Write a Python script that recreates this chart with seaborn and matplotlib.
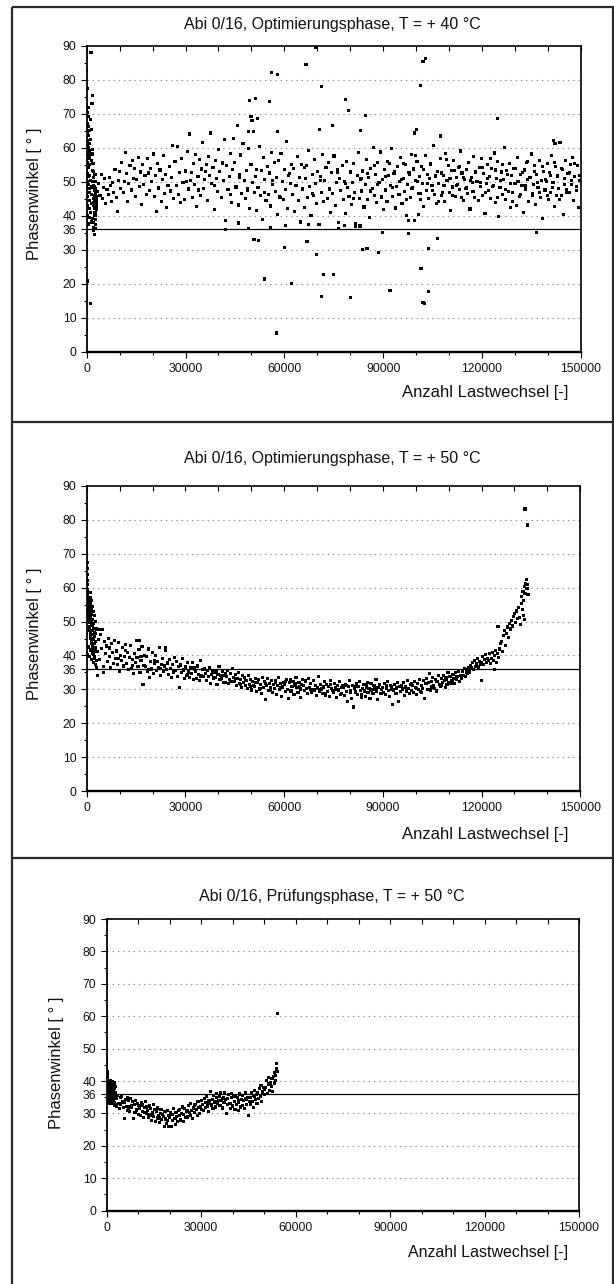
import numpy as np
import pandas as pd
import matplotlib
matplotlib.use("Agg")
import matplotlib.pyplot as plt
from matplotlib.lines import Line2D
from matplotlib.ticker import MultipleLocator, FixedLocator, StrMethodFormatter
import seaborn as sns

sns.set_theme(style="white")
plt.rcParams["font.family"] = ["Liberation Sans", "DejaVu Sans"]

# ---------------------------------------------------------------------------
# Texts
# ---------------------------------------------------------------------------
titles = [
    "Abi 0/16, Optimierungsphase, T = + 40 °C",
    "Abi 0/16, Optimierungsphase, T = + 50 °C",
    "Abi 0/16, Prüfungsphase, T = + 50 °C",
]
x_label = "Anzahl Lastwechsel [-]"
y_label = "Phasenwinkel [ ° ]"
y_ticks = [0, 10, 20, 30, 36, 40, 50, 60, 70, 80, 90]
y_minor = [5, 15, 25, 35, 45, 55, 65, 75, 85]
grid_levels = [10, 20, 30, 40, 50, 60, 70, 80]
limit_value = 36

# ---------------------------------------------------------------------------
# Optimierungsphase, T = +40 °C
# ---------------------------------------------------------------------------
start_40 = [
    (0, 82.7), (100, 77.5), (50, 72.1), (200, 70.4), (150, 67.2), (300, 64.5), (250, 62.1), (80, 60.3),
    (350, 58.0), (120, 55.6), (280, 52.4), (180, 50.1), (60, 48.2), (320, 45.7), (220, 43.1), (140, 40.2),
    (380, 37.6), (40, 32.5), (10, 15.5), (240, 20.8),
    (450, 71.8), (520, 69.2), (600, 66.4), (680, 63.7), (750, 61.2), (820, 59.1), (900, 57.3), (480, 54.2),
    (560, 51.6), (640, 49.3), (720, 47.0), (800, 44.5), (880, 42.1), (960, 39.4), (700, 65.0), (540, 60.0),
    (860, 55.0), (620, 56.8), (940, 52.0), (780, 48.0),
    (1300, 88.2), (1700, 75.4), (1600, 73.0), (1100, 68.3), (1500, 65.4), (1200, 62.6), (1400, 56.2),
    (1650, 53.4), (1050, 50.5), (1350, 46.3), (1550, 43.6), (1150, 41.0), (1450, 38.2), (1070, 14.1),
    (1750, 59.5), (1250, 58.0), (1600, 48.5), (1700, 50.0),
    (1850, 58.2), (1900, 55.3), (2000, 53.1), (2100, 51.2), (2200, 49.0), (2300, 47.6), (2400, 46.1),
    (1950, 45.2), (2050, 44.0), (2150, 43.0), (2250, 42.1), (2350, 41.0), (2450, 40.2), (1880, 39.1),
    (1980, 38.0), (2080, 36.6), (2180, 35.6), (2280, 34.4), (2380, 44.8), (2480, 48.6),
    (2520, 52.1), (2580, 50.2), (2640, 48.1), (2700, 46.5), (2760, 45.0), (2820, 44.1), (2880, 43.2),
    (2940, 42.0), (2560, 41.1), (2620, 40.0), (2680, 39.0), (2740, 37.5), (2800, 36.2), (2860, 47.2),
    (2920, 45.6), (2980, 43.8),
]

x_40 = [
    3000, 3350, 3700, 4050, 4400, 4750, 5100, 5450, 5800, 6150,
    6500, 6850, 7200, 7550, 7900, 8250, 8600, 8950, 9300, 9650,
    10000, 10350, 10700, 11050, 11400, 11750, 12100, 12450, 12800, 13150,
    13500, 13850, 14200, 14550, 14900, 15250, 15600, 15950, 16300, 16650,
    17000, 17350, 17700, 18050, 18400, 18750, 19100, 19450, 19800, 20150,
    20500, 20850, 21200, 21550, 21900, 22250, 22600, 22950, 23300, 23650,
    24000, 24350, 24700, 25050, 25400, 25750, 26100, 26450, 26800, 27150,
    27500, 27850, 28200, 28550, 28900, 29250, 29600, 29950, 30300, 30650,
    31000, 31350, 31700, 32050, 32400, 32750, 33100, 33450, 33800, 34150,
    34500, 34850, 35200, 35550, 35900, 36250, 36600, 36950, 37300, 37650,
    38000, 38350, 38700, 39050, 39400, 39750, 40100, 40450, 40800, 41150,
    41500, 41850, 42200, 42550, 42900, 43250, 43600, 43950, 44300, 44650,
    45000, 45350, 45700, 46050, 46400, 46750, 47100, 47450, 47800, 48150,
    48500, 48850, 49200, 49550, 49900, 50250, 50600, 50950, 51300, 51650,
    52000, 52350, 52700, 53050, 53400, 53750, 54100, 54450, 54800, 55150,
    55500, 55850, 56200, 56550, 56900, 57250, 57600, 57950, 58300, 58650,
    59000, 59350, 59700, 60050, 60400, 60750, 61100, 61450, 61800, 62150,
    62500, 62850, 63200, 63550, 63900, 64250, 64600, 64950, 65300, 65650,
    66000, 66350, 66700, 67050, 67400, 67750, 68100, 68450, 68800, 69150,
    69500, 69850, 70200, 70550, 70900, 71250, 71600, 71950, 72300, 72650,
    73000, 73350, 73700, 74050, 74400, 74750, 75100, 75450, 75800, 76150,
    76500, 76850, 77200, 77550, 77900, 78250, 78600, 78950, 79300, 79650,
    80000, 80350, 80700, 81050, 81400, 81750, 82100, 82450, 82800, 83150,
    83500, 83850, 84200, 84550, 84900, 85250, 85600, 85950, 86300, 86650,
    87000, 87350, 87700, 88050, 88400, 88750, 89100, 89450, 89800, 90150,
    90500, 90850, 91200, 91550, 91900, 92250, 92600, 92950, 93300, 93650,
    94000, 94350, 94700, 95050, 95400, 95750, 96100, 96450, 96800, 97150,
    97500, 97850, 98200, 98550, 98900, 99250, 99600, 99950, 100300, 100650,
    101000, 101350, 101700, 102050, 102400, 102750, 103100, 103450, 103800, 104150,
    104500, 104850, 105200, 105550, 105900, 106250, 106600, 106950, 107300, 107650,
    108000, 108350, 108700, 109050, 109400, 109750, 110100, 110450, 110800, 111150,
    111500, 111850, 112200, 112550, 112900, 113250, 113600, 113950, 114300, 114650,
    115000, 115350, 115700, 116050, 116400, 116750, 117100, 117450, 117800, 118150,
    118500, 118850, 119200, 119550, 119900, 120250, 120600, 120950, 121300, 121650,
    122000, 122350, 122700, 123050, 123400, 123750, 124100, 124450, 124800, 125150,
    125500, 125850, 126200, 126550, 126900, 127250, 127600, 127950, 128300, 128650,
    129000, 129350, 129700, 130050, 130400, 130750, 131100, 131450, 131800, 132150,
    132500, 132850, 133200, 133550, 133900, 134250, 134600, 134950, 135300, 135650,
    136000, 136350, 136700, 137050, 137400, 137750, 138100, 138450, 138800, 139150,
    139500, 139850, 140200, 140550, 140900, 141250, 141600, 141950, 142300, 142650,
    143000, 143350, 143700, 144050, 144400, 144750, 145100, 145450, 145800, 146150,
    146500, 146850, 147200, 147550, 147900, 148250, 148600, 148950, 149300, 149650,
]
y_40 = [
    44.8, 47.2, 49.6, 46.1, 52.3, 45.0, 48.4, 50.9, 43.6, 47.7,
    46.3, 51.2, 48.9, 44.2, 49.8, 47.0, 53.6, 45.5, 41.2, 50.4,
    53.1, 48.0, 55.7, 46.9, 50.2, 58.6, 52.4, 44.3, 49.5, 54.8,
    47.6, 56.3, 51.0, 53.9, 45.8, 50.7, 57.2, 48.6, 52.9, 43.4,
    55.1, 49.3, 51.8, 46.2, 56.9, 52.6, 47.4, 54.0, 50.1, 58.2,
    45.6, 51.9, 41.3, 55.3, 48.2, 53.5, 44.1, 50.6, 57.8, 46.7,
    52.2, 42.5, 49.0, 54.6, 47.3, 51.4, 60.8, 45.2, 55.9, 48.8,
    60.3, 46.4, 52.8, 43.9, 57.0, 49.7, 44.7, 53.2, 50.0, 58.9,
    47.9, 64.1, 52.7, 45.4, 55.4, 49.2, 58.0, 42.8, 51.6, 56.6,
    46.0, 53.8, 61.7, 48.1, 50.8, 55.0, 44.6, 57.5, 52.0, 64.4,
    49.4, 54.3, 41.8, 56.2, 51.1, 47.1, 59.4, 53.0, 45.3, 55.5,
    50.3, 62.5, 38.5, 54.9, 47.8, 51.5, 58.3, 44.0, 53.7, 62.8,
    55.8, 48.5, 66.6, 43.2, 52.1, 57.9, 46.6, 61.2, 50.5, 45.1,
    53.3, 47.5, 59.9, 42.2, 55.2, 49.9, 64.7, 46.8, 51.7, 41.6,
    48.3, 60.4, 45.9, 53.4, 38.9, 57.1, 50.7, 44.4, 54.5, 46.2,
    52.6, 42.9, 58.7, 49.1, 55.6, 47.2, 51.3, 40.4, 56.4, 45.7,
    58.4, 50.2, 44.9, 53.6, 47.7, 61.9, 42.1, 52.5, 49.6, 55.0,
    46.4, 53.9, 41.4, 48.8, 57.4, 44.5, 51.2, 38.2, 55.1, 47.9,
    42.4, 50.9, 54.8, 45.3, 59.2, 48.7, 40.1, 52.3, 46.0, 56.7,
    49.5, 43.6, 53.0, 37.4, 51.6, 47.0, 58.1, 44.2, 50.4, 54.2,
    45.1, 55.7, 48.0, 41.0, 52.8, 46.5, 57.6, 43.0, 49.9, 53.5,
    38.1, 51.0, 47.4, 54.7, 44.7, 50.1, 40.8, 56.0, 48.4, 45.6,
    52.9, 43.3, 49.8, 55.4, 46.8, 37.0, 51.8, 58.6, 45.0, 50.6,
    47.3, 53.2, 42.6, 49.2, 56.5, 44.9, 51.4, 39.6, 54.0, 48.1,
    60.2, 46.1, 52.1, 43.8, 55.8, 49.7, 58.8, 45.4, 50.8, 41.9,
    53.7, 47.6, 44.1, 51.9, 55.5, 49.0, 59.7, 45.8, 52.4, 42.3,
    48.6, 54.4, 46.3, 50.0, 57.3, 43.7, 51.1, 47.1, 55.0, 40.2,
    49.3, 52.7, 45.5, 58.0, 48.2, 53.8, 38.6, 50.5, 56.1, 46.7,
    51.5, 44.8, 54.6, 49.4, 42.7, 57.7, 47.5, 52.2, 45.2, 50.9,
    55.3, 48.9, 60.7, 46.4, 51.7, 43.5, 53.1, 49.6, 57.0, 45.9,
    47.0, 52.0, 44.3, 58.4, 50.3, 54.9, 46.9, 41.5, 53.4, 48.5,
    56.3, 45.6, 51.3, 49.1, 54.1, 47.8, 59.1, 52.6, 44.6, 50.7,
    48.0, 53.6, 46.6, 55.7, 42.0, 51.2, 49.9, 57.5, 45.3, 52.8,
    50.2, 44.5, 54.3, 48.7, 56.8, 46.1, 52.5, 40.7, 49.4, 55.2,
    47.4, 51.6, 45.0, 53.9, 49.0, 58.5, 44.0, 51.0, 55.9, 39.8,
    48.4, 52.9, 46.3, 50.6, 60.0, 44.7, 53.3, 47.2, 55.4, 42.5,
    51.8, 46.9, 54.0, 49.5, 43.1, 57.2, 50.1, 45.7, 52.3, 48.8,
    40.9, 53.5, 47.9, 55.6, 50.8, 44.2, 51.4, 58.2, 46.5, 49.2,
    54.7, 43.4, 52.1, 48.3, 56.2, 45.4, 50.4, 39.3, 53.0, 47.6,
    50.0, 55.3, 44.9, 52.7, 47.0, 57.8, 49.8, 42.8, 54.4, 46.0,
    51.9, 48.1, 61.5, 45.9, 53.6, 40.5, 50.9, 56.4, 47.7, 52.5,
    46.8, 55.0, 49.3, 57.3, 44.4, 51.5, 48.6, 54.8, 42.4, 50.3,
]

more_40 = [
    (31500, 50.4), (33900, 47.6), (36200, 53.1), (38900, 49.0), (41300, 55.8), (43700, 46.3),
    (46500, 51.3), (48900, 48.1), (51500, 53.6), (53900, 47.0), (56300, 50.5), (58700, 45.4),
    (61300, 52.0), (63700, 48.9), (66200, 54.3), (68600, 46.7), (71100, 50.3), (73600, 47.8),
    (76100, 52.7), (78500, 49.4), (80900, 45.2), (83300, 51.1),
    (85200, 52.4), (86100, 47.3), (87500, 54.9), (88300, 49.2), (89600, 45.8), (90700, 51.6),
    (91400, 56.1), (92800, 48.4), (93500, 53.0), (94900, 46.2), (95600, 50.8), (96300, 55.4),
    (97200, 44.9), (98100, 52.1), (98700, 48.0), (99800, 57.8), (100500, 50.2), (101200, 46.6),
    (102300, 53.7), (103600, 49.5), (104300, 55.0), (105100, 47.4), (105800, 51.9), (106700, 44.3),
    (107800, 52.6), (108500, 48.8), (109200, 56.5), (110300, 50.9), (111000, 46.0), (111700, 53.3),
    (112400, 49.0), (113100, 54.6), (113800, 45.5), (114500, 51.4), (115300, 48.2), (116000, 55.7),
    (116600, 50.4), (117300, 47.1), (118000, 52.9), (118900, 44.6), (119600, 49.8), (120300, 54.2),
    (121100, 46.9), (121800, 51.0), (122600, 57.0), (123300, 48.6), (124000, 53.5), (124800, 45.3),
    (125600, 50.5), (126300, 55.2), (127100, 47.7), (127800, 52.3), (128600, 49.4), (129400, 44.1),
    (130100, 54.0), (130900, 50.0), (131600, 46.4), (132300, 52.8), (133100, 48.9), (133800, 56.0),
    (134600, 51.2), (135300, 45.9), (136100, 53.1), (136900, 49.7), (137600, 47.0), (138400, 54.4),
    (139200, 50.6), (139900, 46.1), (140700, 52.0), (141400, 48.3), (142100, 55.6), (142900, 51.5),
    (143600, 44.8), (144300, 53.9), (145000, 49.1), (145800, 46.8), (146600, 52.7), (147300, 50.3),
    (148000, 55.3), (148800, 47.5), (149500, 51.8),
]

outliers_40 = [
    (49400, 74.0), (51200, 74.6), (55400, 73.6), (56000, 82.1), (57900, 81.7), (66600, 84.6),
    (69400, 89.6), (71300, 78.0), (78700, 74.3), (79500, 71.1), (84600, 69.6), (102100, 85.4),
    (103000, 86.2), (101300, 78.4), (49900, 69.3), (50200, 68.0), (51800, 68.6), (74500, 66.7),
    (83100, 65.1), (70700, 65.5), (100200, 65.5), (99600, 64.4), (124700, 68.7), (107500, 63.5),
    (57800, 64.7), (49200, 64.7), (141800, 62.3), (142200, 61.4),
    (50800, 33.0), (52200, 32.8), (60000, 30.8), (66900, 32.5), (69700, 28.5), (71900, 22.6),
    (75000, 22.6), (71400, 16.2), (80000, 16.0), (54100, 21.4), (62200, 20.0), (57600, 5.5),
    (83700, 30.0), (85100, 30.3), (88700, 29.3), (92100, 18.0), (89700, 35.0), (97800, 34.7),
    (101500, 24.6), (102100, 14.6), (102700, 14.1), (103700, 17.6), (103900, 30.5), (106500, 33.4),
    (136600, 35.2),
    (42200, 35.9), (46000, 37.9), (49200, 36.3), (55900, 36.5), (60400, 37.2), (67400, 37.4),
    (76500, 36.2), (78300, 37.2), (81500, 37.7), (83000, 37.0), (97800, 38.5), (100800, 40.4),
]

# ---------------------------------------------------------------------------
# Optimierungsphase, T = +50 °C
# ---------------------------------------------------------------------------
start_50 = [
    (0, 83.0), (30, 74.0), (60, 70.2), (90, 67.3), (120, 65.6), (150, 63.8), (200, 62.0), (250, 60.9),
    (300, 59.4), (350, 58.1), (400, 57.2), (450, 56.4), (500, 55.5), (550, 54.8), (600, 53.9),
    (650, 53.2), (700, 52.6), (750, 51.8), (800, 51.0), (850, 50.3),
    (100, 58.5), (220, 56.0), (340, 54.2), (460, 52.4), (580, 50.8), (700, 49.6), (820, 48.4),
    (940, 47.5), (1060, 46.6), (1180, 45.8), (1300, 45.0), (1420, 44.3), (1540, 43.6), (1660, 43.0),
    (1780, 42.3), (1900, 41.7), (2020, 41.0), (2140, 40.4), (2260, 39.8), (2380, 39.2),
    (900, 54.6), (1000, 52.9), (1100, 55.3), (1200, 51.5), (1300, 53.7), (1400, 50.1), (1500, 52.2),
    (1600, 48.9), (1700, 50.6), (1800, 47.4), (1900, 49.3), (2000, 46.1), (2100, 48.0), (2200, 44.7),
    (2300, 46.9), (2400, 43.5), (2500, 45.6), (2600, 42.4), (2700, 44.2), (2800, 41.3),
    (200, 40.2), (500, 42.5), (800, 39.8), (1100, 41.6), (1400, 38.9), (1700, 40.7), (2000, 37.9),
    (2300, 39.1), (2600, 37.4), (2900, 38.5), (1000, 57.2), (1250, 58.6), (1500, 56.1), (1750, 54.4),
    (2050, 53.0), (2350, 51.7), (2650, 49.9), (2950, 47.8), (2750, 46.5), (2850, 36.3),
]

x_50 = [
    3000, 3300, 3600, 3900, 4200, 4500, 4800, 5100, 5400, 5700,
    6000, 6300, 6600, 6900, 7200, 7500, 7800, 8100, 8400, 8700,
    9000, 9300, 9600, 9900, 10200, 10500, 10800, 11100, 11400, 11700,
    12000, 12300, 12600, 12900, 13200, 13500, 13800, 14100, 14400, 14700,
    15000, 15300, 15600, 15900, 16200, 16500, 16800, 17100, 17400, 17700,
    18000, 18300, 18600, 18900, 19200, 19500, 19800, 20100, 20400, 20700,
    21000, 21300, 21600, 21900, 22200, 22500, 22800, 23100, 23400, 23700,
    24000, 24300, 24600, 24900, 25200, 25500, 25800, 26100, 26400, 26700,
    27000, 27300, 27600, 27900, 28200, 28500, 28800, 29100, 29400, 29700,
    30000, 30300, 30600, 30900, 31200, 31500, 31800, 32100, 32400, 32700,
    33000, 33300, 33600, 33900, 34200, 34500, 34800, 35100, 35400, 35700,
    36000, 36300, 36600, 36900, 37200, 37500, 37800, 38100, 38400, 38700,
    39000, 39300, 39600, 39900, 40200, 40500, 40800, 41100, 41400, 41700,
    42000, 42300, 42600, 42900, 43200, 43500, 43800, 44100, 44400, 44700,
    45000, 45300, 45600, 45900, 46200, 46500, 46800, 47100, 47400, 47700,
    48000, 48300, 48600, 48900, 49200, 49500, 49800, 50100, 50400, 50700,
    51000, 51300, 51600, 51900, 52200, 52500, 52800, 53100, 53400, 53700,
    54000, 54300, 54600, 54900, 55200, 55500, 55800, 56100, 56400, 56700,
    57000, 57300, 57600, 57900, 58200, 58500, 58800, 59100, 59400, 59700,
    60000, 60300, 60600, 60900, 61200, 61500, 61800, 62100, 62400, 62700,
    63000, 63300, 63600, 63900, 64200, 64500, 64800, 65100, 65400, 65700,
    66000, 66300, 66600, 66900, 67200, 67500, 67800, 68100, 68400, 68700,
    69000, 69300, 69600, 69900, 70200, 70500, 70800, 71100, 71400, 71700,
    72000, 72300, 72600, 72900, 73200, 73500, 73800, 74100, 74400, 74700,
    75000, 75300, 75600, 75900, 76200, 76500, 76800, 77100, 77400, 77700,
    78000, 78300, 78600, 78900, 79200, 79500, 79800, 80100, 80400, 80700,
    81000, 81300, 81600, 81900, 82200, 82500, 82800, 83100, 83400, 83700,
    84000, 84300, 84600, 84900, 85200, 85500, 85800, 86100, 86400, 86700,
    87000, 87300, 87600, 87900, 88200, 88500, 88800, 89100, 89400, 89700,
    90000, 90300, 90600, 90900, 91200, 91500, 91800, 92100, 92400, 92700,
    93000, 93300, 93600, 93900, 94200, 94500, 94800, 95100, 95400, 95700,
    96000, 96300, 96600, 96900, 97200, 97500, 97800, 98100, 98400, 98700,
    99000, 99300, 99600, 99900, 100200, 100500, 100800, 101100, 101400, 101700,
    102000, 102300, 102600, 102900, 103200, 103500, 103800, 104100, 104400, 104700,
    105000, 105300, 105600, 105900, 106200, 106500, 106800, 107100, 107400, 107700,
    108000, 108300, 108600, 108900, 109200, 109500, 109800, 110100, 110400, 110700,
    111000, 111300, 111600, 111900, 112200, 112500, 112800, 113100, 113400, 113700,
    114000, 114300, 114600, 114900, 115200, 115500, 115800, 116100, 116400, 116700,
    117000, 117300, 117600, 117900, 118200, 118500, 118800, 119100, 119400, 119700,
    120000, 120300, 120600, 120900, 121200, 121500, 121800, 122100, 122400, 122700,
    123000, 123300, 123600, 123900, 124200, 124500, 124800, 125100, 125400, 125700,
    126000, 126300, 126600, 126900, 127200, 127500, 127800, 128100, 128400, 128700,
    129000, 129300, 129600, 129900, 130200, 130500, 130800, 131100, 131400, 131700,
]
y_50 = [
    47.8, 41.2, 44.6, 38.9, 46.3, 42.0, 47.7, 36.8, 44.1, 40.5,
    42.8, 38.3, 45.1, 39.6, 36.4, 43.5, 40.9, 37.7, 44.5, 39.0,
    41.3, 37.2, 43.7, 35.4, 40.1, 38.6, 42.4, 36.9, 39.8, 43.1,
    37.5, 41.0, 35.9, 39.4, 42.9, 36.2, 38.8, 34.6, 40.6, 37.9,
    44.4, 39.3, 36.7, 41.8, 34.9, 38.4, 42.6, 31.3, 37.1, 40.0,
    36.7, 39.7, 35.2, 41.9, 33.6, 38.1, 36.0, 40.8, 34.8, 37.6,
    39.9, 35.6, 38.3, 36.5, 42.3, 34.1, 37.3, 39.2, 35.3, 36.9,
    41.5, 35.8, 37.9, 34.3, 38.7, 36.1, 33.4, 37.4, 35.0, 39.5,
    35.5, 38.2, 33.8, 36.8, 30.5, 37.0, 34.9, 39.1, 35.7, 33.2,
    36.6, 34.0, 37.8, 35.1, 33.5, 36.3, 34.6, 38.0, 33.0, 35.9,
    35.2, 33.3, 36.9, 34.4, 32.6, 38.5, 34.1, 35.8, 33.7, 36.0,
    34.8, 32.5, 35.6, 33.9, 36.4, 31.8, 34.3, 35.4, 33.1, 35.0,
    33.6, 35.1, 31.4, 34.5, 36.8, 32.9, 34.0, 33.2, 35.3, 31.9,
    34.2, 32.1, 33.9, 35.6, 31.6, 33.0, 34.7, 32.4, 36.2, 33.5,
    32.3, 34.4, 31.2, 33.1, 35.0, 31.7, 32.8, 30.6, 34.1, 32.0,
    33.4, 31.0, 32.6, 30.3, 34.0, 31.5, 33.0, 29.8, 32.4, 31.1,
    30.8, 33.2, 29.4, 31.9, 32.9, 30.1, 31.4, 28.8, 33.5, 30.6,
    32.2, 26.9, 31.0, 33.3, 29.6, 31.8, 30.4, 32.7, 29.0, 31.5,
    30.2, 32.5, 28.6, 31.2, 33.6, 29.9, 31.7, 27.8, 30.7, 32.0,
    31.4, 29.3, 32.8, 30.0, 27.2, 31.9, 33.0, 29.5, 30.9, 32.3,
    28.4, 31.6, 33.4, 30.5, 29.1, 32.1, 30.8, 27.6, 31.3, 32.9,
    31.1, 29.7, 32.4, 30.3, 28.9, 33.1, 30.6, 31.8, 29.2, 30.0,
    32.6, 29.8, 31.0, 28.3, 30.4, 33.7, 29.5, 31.5, 30.1, 28.7,
    30.7, 32.2, 28.1, 31.3, 29.4, 30.9, 27.9, 32.7, 30.2, 29.6,
    29.0, 31.7, 30.0, 27.5, 31.2, 29.8, 32.3, 28.6, 30.5, 31.0,
    30.6, 28.2, 31.5, 29.3, 26.4, 30.8, 32.6, 29.1, 27.3, 31.1,
    24.8, 30.4, 29.2, 31.8, 28.5, 30.9, 32.4, 29.7, 27.7, 30.2,
    31.3, 29.5, 28.0, 30.7, 32.1, 29.0, 30.3, 27.4, 31.6, 29.9,
    28.8, 31.0, 30.1, 32.9, 29.4, 27.1, 30.6, 31.4, 28.9, 30.0,
    30.5, 29.1, 31.7, 28.4, 30.2, 32.2, 29.6, 27.8, 31.1, 30.8,
    25.5, 29.8, 31.5, 28.7, 30.4, 32.0, 26.3, 30.9, 29.3, 31.2,
    30.1, 31.9, 28.3, 30.7, 29.5, 32.5, 30.3, 28.9, 31.4, 29.7,
    31.2, 29.0, 32.4, 30.5, 28.6, 31.7, 30.0, 32.8, 29.3, 31.0,
    30.3, 32.5, 27.4, 31.6, 33.3, 30.0, 31.9, 34.7, 29.8, 32.2,
    33.6, 31.1, 30.2, 32.9, 29.5, 32.4, 34.0, 31.5, 30.8, 33.1,
    31.9, 34.2, 32.7, 30.6, 33.4, 31.3, 35.0, 32.1, 33.8, 31.6,
    32.6, 34.5, 33.2, 31.8, 34.9, 32.9, 33.7, 35.3, 32.3, 34.1,
    33.5, 35.2, 34.0, 36.1, 33.9, 35.7, 34.6, 36.5, 35.1, 37.0,
    36.3, 37.8, 35.9, 38.4, 36.8, 37.5, 39.0, 36.6, 38.1, 37.3,
    38.0, 39.6, 37.4, 38.8, 40.2, 37.9, 39.2, 38.5, 40.7, 37.7,
    39.0, 40.8, 38.6, 39.9, 41.4, 37.8, 40.5, 39.3, 41.9, 43.5,
    44.2, 41.1, 45.8, 47.3, 43.0, 46.6, 48.4, 45.2, 49.5, 47.8,
    50.3, 48.7, 51.6, 52.4, 49.6, 53.1, 50.8, 54.2, 51.1, 49.0,
]

more_50 = [
    (7000, 42.2), (9500, 39.1), (11800, 41.5), (13800, 37.0), (16500, 39.8), (18700, 35.9),
    (20500, 38.5), (22400, 36.2), (24600, 37.6), (26500, 35.4), (28600, 37.2), (30700, 34.3),
    (32600, 36.4), (34700, 33.8), (36800, 35.5), (38700, 33.4),
    (40500, 33.0), (42100, 34.6), (43600, 32.2), (45100, 33.3), (46700, 31.4), (48200, 32.7),
    (49700, 30.9), (51200, 32.0), (52800, 30.3), (54300, 31.6), (55800, 29.7), (57400, 31.9),
    (58900, 30.5), (60400, 32.2), (61900, 29.4), (63500, 31.0), (65000, 30.1), (66500, 32.5),
    (68100, 29.9), (69600, 31.2), (71100, 30.0), (72700, 28.8), (74200, 31.4), (75700, 30.6),
    (77300, 28.9), (78800, 31.0), (80300, 29.6), (81800, 30.8), (83400, 28.4), (84900, 31.3),
    (86400, 29.8), (88000, 30.4), (89500, 28.7), (91000, 31.1), (92500, 30.0), (94100, 28.9),
    (95600, 30.9), (97100, 29.5), (98700, 31.6), (100200, 30.2), (101700, 29.1), (103300, 31.8),
    (104800, 30.7), (106300, 32.3), (107900, 31.0), (109400, 33.0), (110900, 32.2), (112400, 33.9),
    (114000, 33.1), (115500, 35.0),
]

end_50 = [
    (132000, 55.4), (132200, 57.3), (132400, 53.6), (132600, 59.0), (132800, 56.2), (133000, 60.4),
    (133200, 58.3), (133400, 61.2), (133600, 62.5), (133800, 59.8), (134000, 61.0), (133100, 50.5),
    (132700, 51.9), (134100, 57.9),
    (133200, 83.2), (134000, 78.5), (120000, 32.5), (124000, 35.9), (125000, 48.5), (3200, 34.2),
    (5000, 35.0), (16000, 44.4), (24000, 42.3), (4000, 47.6),
]

# ---------------------------------------------------------------------------
# Prüfungsphase, T = +50 °C
# ---------------------------------------------------------------------------
start_pr = [
    (0, 47.0), (30, 45.5), (60, 44.0), (90, 42.8), (120, 41.6), (150, 40.7), (200, 39.9), (250, 39.2),
    (300, 38.6), (350, 38.0), (400, 39.5), (500, 37.3), (600, 36.4), (700, 38.8), (800, 35.6),
    (900, 37.9), (1000, 39.7), (1100, 36.1), (1200, 34.8), (1300, 38.3), (1400, 35.3), (1500, 37.1),
    (1600, 39.1), (1700, 34.3), (1800, 36.8), (1900, 38.6), (2000, 35.8), (2100, 37.6), (2200, 34.0),
    (2300, 36.3), (2400, 38.1), (2500, 35.1), (2600, 33.5), (2700, 36.6), (2800, 34.6), (2900, 32.8),
    (450, 35.4), (550, 39.9), (650, 34.5), (750, 37.0), (850, 39.3), (950, 35.0), (1050, 37.5),
    (1150, 40.1), (1250, 36.6), (1350, 33.9), (1450, 39.6), (1550, 36.0), (1650, 38.0), (1750, 33.2),
    (1850, 39.8), (1950, 37.3), (2050, 33.7), (2150, 39.0), (2250, 36.9), (2350, 32.6), (2450, 37.8),
    (2550, 39.4), (2650, 35.5), (2750, 38.4), (100, 36.7), (180, 34.9), (260, 37.4), (330, 35.8),
    (420, 33.6), (520, 38.5), (620, 40.3), (720, 33.0), (820, 36.2), (920, 40.0),
]

x_pr = [
    3000, 3250, 3500, 3750, 4000, 4250, 4500, 4750, 5000, 5250,
    5500, 5750, 6000, 6250, 6500, 6750, 7000, 7250, 7500, 7750,
    8000, 8250, 8500, 8750, 9000, 9250, 9500, 9750, 10000, 10250,
    10500, 10750, 11000, 11250, 11500, 11750, 12000, 12250, 12500, 12750,
    13000, 13250, 13500, 13750, 14000, 14250, 14500, 14750, 15000, 15250,
    15500, 15750, 16000, 16250, 16500, 16750, 17000, 17250, 17500, 17750,
    18000, 18250, 18500, 18750, 19000, 19250, 19500, 19750, 20000, 20250,
    20500, 20750, 21000, 21250, 21500, 21750, 22000, 22250, 22500, 22750,
    23000, 23250, 23500, 23750, 24000, 24250, 24500, 24750, 25000, 25250,
    25500, 25750, 26000, 26250, 26500, 26750, 27000, 27250, 27500, 27750,
    28000, 28250, 28500, 28750, 29000, 29250, 29500, 29750, 30000, 30250,
    30500, 30750, 31000, 31250, 31500, 31750, 32000, 32250, 32500, 32750,
    33000, 33250, 33500, 33750, 34000, 34250, 34500, 34750, 35000, 35250,
    35500, 35750, 36000, 36250, 36500, 36750, 37000, 37250, 37500, 37750,
    38000, 38250, 38500, 38750, 39000, 39250, 39500, 39750, 40000, 40250,
    40500, 40750, 41000, 41250, 41500, 41750, 42000, 42250, 42500, 42750,
    43000, 43250, 43500, 43750, 44000, 44250, 44500, 44750, 45000, 45250,
    45500, 45750, 46000, 46250, 46500, 46750, 47000, 47250, 47500, 47750,
    48000, 48250, 48500, 48750, 49000, 49250, 49500, 49750, 50000, 50250,
    50500, 50750, 51000, 51250, 51500, 51750, 52000, 52250, 52500, 52750,
]
y_pr = [
    34.5, 32.1, 35.6, 33.0, 31.4, 34.9, 32.7, 35.2, 33.8, 31.9,
    33.4, 28.4, 34.3, 32.2, 35.0, 31.0, 33.9, 30.6, 34.7, 32.5,
    31.8, 33.6, 28.4, 32.9, 30.3, 34.1, 31.2, 33.0, 29.6, 32.4,
    31.5, 29.4, 33.4, 30.7, 32.6, 28.7, 31.9, 33.8, 30.1, 32.0,
    30.8, 28.9, 32.3, 29.8, 31.5, 27.9, 30.4, 32.8, 29.2, 31.1,
    27.4, 30.5, 28.6, 31.7, 29.3, 27.1, 30.0, 31.2, 28.2, 29.7,
    29.0, 26.0, 30.6, 28.3, 27.0, 31.0, 29.5, 25.9, 28.8, 30.2,
    26.0, 29.6, 27.8, 31.5, 28.5, 26.7, 30.3, 29.1, 27.4, 30.9,
    29.3, 31.2, 28.0, 30.1, 32.0, 27.5, 29.8, 31.6, 28.7, 30.5,
    31.0, 28.9, 32.4, 30.2, 29.4, 33.1, 30.8, 28.4, 31.7, 32.6,
    30.4, 32.9, 31.3, 29.5, 33.6, 31.9, 30.0, 32.2, 34.0, 31.1,
    32.8, 30.9, 34.5, 31.8, 33.3, 35.2, 32.1, 30.6, 34.0, 33.0,
    36.8, 32.6, 34.2, 31.5, 35.6, 33.4, 32.0, 34.8, 36.1, 33.1,
    33.9, 35.3, 32.4, 36.6, 34.1, 31.7, 35.0, 33.5, 36.3, 34.4,
    29.9, 34.6, 32.9, 35.8, 33.2, 31.4, 34.9, 36.2, 32.3, 35.4,
    33.7, 31.2, 35.1, 32.7, 34.8, 30.8, 33.4, 36.0, 32.0, 34.3,
    32.5, 35.6, 33.9, 31.6, 36.4, 34.6, 32.9, 35.0, 29.3, 33.8,
    34.9, 32.8, 36.5, 33.6, 35.5, 31.9, 37.2, 34.2, 35.9, 33.1,
    36.4, 34.5, 37.8, 35.3, 38.7, 33.8, 36.9, 38.1, 35.8, 37.4,
    37.9, 40.3, 36.2, 39.1, 41.0, 37.0, 39.6, 38.4, 40.8, 36.8,
]

more_pr = [
    (4100, 33.2), (6800, 32.0), (9400, 31.0), (11900, 30.2), (14400, 29.4), (16900, 28.6),
    (19400, 27.9), (21900, 28.4), (24400, 29.6), (26900, 30.9), (29400, 31.8), (31900, 33.0),
    (34400, 33.7), (36900, 34.6), (39400, 33.0), (41900, 33.9), (44400, 34.4), (46900, 35.3),
    (49400, 36.6), (51900, 38.9),
]

end_pr = [
    (53000, 41.4), (53200, 39.4), (53400, 42.6), (53600, 40.2), (53800, 43.8), (53900, 45.4),
    (54000, 44.0), (53700, 41.8), (54100, 42.9), (54300, 60.8),
]


def panel_frame(xs, ys, *pair_lists):
    all_x, all_y = list(xs), list(ys)
    for pairs in pair_lists:
        px, py = zip(*pairs)
        all_x += list(px)
        all_y += list(py)
    return pd.DataFrame({"Lastwechsel": all_x, "Phasenwinkel": all_y})


frames = [
    panel_frame(x_40, y_40, start_40, more_40, outliers_40),
    panel_frame(x_50, y_50, start_50, more_50, end_50),
    panel_frame(x_pr, y_pr, start_pr, more_pr, end_pr),
]

# ---------------------------------------------------------------------------
# Layout (pixel positions converted to figure fractions)
# ---------------------------------------------------------------------------
W, H = 614, 1284
fig = plt.figure(figsize=(W / 100, H / 100), dpi=100)


def fx(px):
    return px / W


def fy(py):
    return 1 - py / H


layout = [
    dict(l=86.7, r=580.7, t=46.0, b=351.7, ty=25, xly=392, ylx=35, yly=194, xls=12),
    dict(l=86.7, r=580.3, t=486.0, b=791.0, ty=459, xly=834, ylx=35, yly=634, xls=12),
    dict(l=106.7, r=579.0, t=919.0, b=1210.7, ty=897, xly=1252, ylx=57, yly=1063, xls=11.5),
]

for title, df, lay in zip(titles, frames, layout):
    ax = fig.add_axes([fx(lay["l"]), fy(lay["b"]), fx(lay["r"] - lay["l"]), (lay["b"] - lay["t"]) / H])
    ax.set_facecolor("white")

    for g in grid_levels:
        ax.axhline(g, color="#8a8a8a", lw=0.8, linestyle=(0, (1.2, 3.5)), zorder=1)
    ax.axhline(limit_value, color="black", lw=0.9, zorder=2)

    sns.scatterplot(data=df, x="Lastwechsel", y="Phasenwinkel", ax=ax, marker="s", s=5.0,
                    color="black", edgecolor="none", linewidth=0, legend=False, zorder=3)

    ax.set_xlim(0, 150000)
    ax.set_ylim(0, 90)
    ax.set_xlabel("")
    ax.set_ylabel("")
    ax.grid(False)

    ax.xaxis.set_major_locator(MultipleLocator(30000))
    ax.xaxis.set_minor_locator(MultipleLocator(10000))
    ax.xaxis.set_major_formatter(StrMethodFormatter("{x:.0f}"))
    ax.yaxis.set_major_locator(FixedLocator(y_ticks))
    ax.yaxis.set_minor_locator(FixedLocator(y_minor))
    ax.yaxis.set_major_formatter(StrMethodFormatter("{x:.0f}"))

    ax.tick_params(axis="both", which="major", direction="out", length=4.5, width=0.8,
                   color="black", labelsize=8.8, labelcolor="#111111",
                   bottom=True, left=True, top=False, right=False)
    ax.tick_params(axis="both", which="minor", direction="out", length=2.5, width=0.8,
                   color="black", bottom=True, left=True, top=False, right=False)
    ax.tick_params(axis="y", which="major", pad=3)
    ax.tick_params(axis="x", which="major", pad=3.5)

    for side, lw in (("left", 1.3), ("bottom", 1.7), ("top", 1.2), ("right", 1.2)):
        ax.spines[side].set_visible(True)
        ax.spines[side].set_color("black")
        ax.spines[side].set_linewidth(lw)

    top = ax.secondary_xaxis("top")
    top.xaxis.set_major_locator(MultipleLocator(10000))
    top.tick_params(axis="x", direction="in", length=3.5, width=0.8, color="black",
                    labeltop=False, top=True)
    top.spines["top"].set_visible(False)

    fig.text(fx(332), fy(lay["ty"]), title, ha="center", va="center", fontsize=11.5, color="#111111")
    fig.text(fx(568), fy(lay["xly"]), x_label, ha="right", va="center", fontsize=lay["xls"],
             color="#111111")
    fig.text(fx(lay["ylx"]), fy(lay["yly"]), y_label, ha="center", va="center", rotation=90,
             fontsize=12, color="#111111")

# Table-like frame around the three panels
frame_kw = dict(transform=fig.transFigure, color="#2a2a2a", lw=1.6, solid_capstyle="butt")
fig.add_artist(Line2D([fx(12), fx(12)], [fy(6.5), 0], **frame_kw))
fig.add_artist(Line2D([fx(613), fx(613)], [fy(6.5), 0], **frame_kw))
for yline in (6.5, 422, 858):
    fig.add_artist(Line2D([fx(12), 1], [fy(yline), fy(yline)], **frame_kw))

fig.savefig("out.png", dpi=100, facecolor="white")
